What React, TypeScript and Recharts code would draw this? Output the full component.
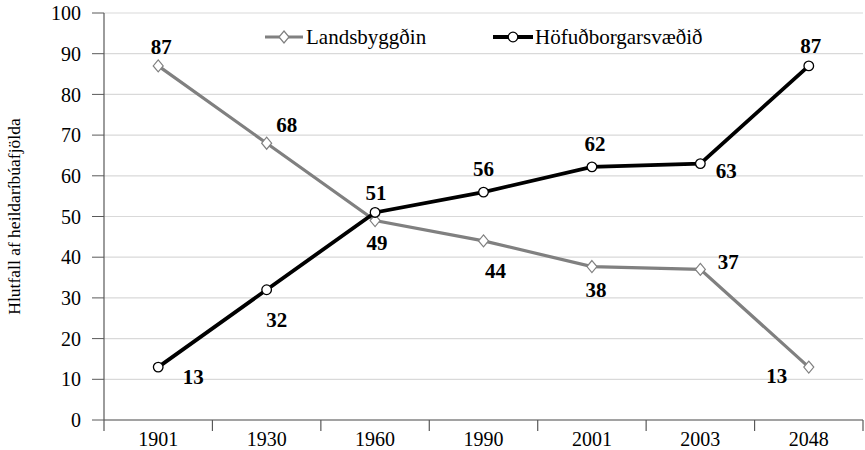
import React from "react";
import { LineChart, Line, XAxis, YAxis, CartesianGrid, LabelList } from "recharts";

const years = ["1901", "1930", "1960", "1990", "2001", "2003", "2048"];
const landsbyggdin = [87, 68, 49, 44, 37.7, 37.0, 13];
const hofudborg = [13, 32, 51, 56, 62.2, 63.0, 87];
const yTicks = [0, 10, 20, 30, 40, 50, 60, 70, 80, 90, 100];

const data = years.map((y, i) => ({ year: y, land: landsbyggdin[i], hofud: hofudborg[i] }));

// label offsets (styling): [dx, dy] relative to point
const landOffsets = [[3, -19], [20, -18], [2, 22], [12, 30], [4, 23], [28, -7], [-32, 9]];
const hofudOffsets = [[35, 10], [10, 30], [1, -19], [0, -23], [3, -23], [26, 7], [2, -20]];

const FONT = "Liberation Serif, Times New Roman, serif";
const GREY = "#808080";
const AXIS = "#595959";

const W = 865;
const H = 450;
const M = { top: 13, right: 2, left: 0, bottom: 0 };
const YW = 104;
const BAND = (W - M.left - M.right - YW) / years.length;

const Diamond = (props: any) => {
  const { cx, cy } = props;
  if (cx == null || cy == null) return null;
  return (
    <path
      d={`M${cx},${cy - 6} L${cx + 5},${cy} L${cx},${cy + 6} L${cx - 5},${cy} Z`}
      fill="#fff"
      stroke={GREY}
      strokeWidth={1.2}
    />
  );
};

const Circle = (props: any) => {
  const { cx, cy } = props;
  if (cx == null || cy == null) return null;
  return <circle cx={cx} cy={cy} r={4.8} fill="#fff" stroke="#000" strokeWidth={1.3} />;
};

const makeLabel = (offsets: number[][]) => (props: any) => {
  const { x, y, value, index } = props;
  const [dx, dy] = offsets[index] || [0, -15];
  return (
    <text
      x={x + dx}
      y={y + dy}
      textAnchor="middle"
      dominantBaseline="central"
      style={{ fontFamily: FONT, fontSize: 21, fontWeight: "bold" }}
      fill="#000"
    >
      {Math.round(value)}
    </text>
  );
};

const XTick = (props: any) => {
  const { x, y, payload, index } = props;
  const left = x - BAND / 2;
  return (
    <g>
      <line x1={left} y1={y - 11} x2={left} y2={y} stroke={AXIS} strokeWidth={1.2} />
      {index === years.length - 1 && (
        <line x1={x + BAND / 2} y1={y - 11} x2={x + BAND / 2} y2={y} stroke={AXIS} strokeWidth={1.2} />
      )}
      <text x={x} y={y + 8} textAnchor="middle" dominantBaseline="central" style={{ fontFamily: FONT, fontSize: 20 }} fill="#000">
        {payload.value}
      </text>
    </g>
  );
};

const LegendOverlay = () => (
  <svg width={W} height={50} style={{ position: "absolute", left: 0, top: 0, pointerEvents: "none" }}>
    <line x1={265} y1={37} x2={303} y2={37} stroke={GREY} strokeWidth={3.2} />
    <Diamond cx={284} cy={37} />
    <text x={306} y={37} dominantBaseline="central" style={{ fontFamily: FONT, fontSize: 21 }} fill="#000">
      Landsbyggðin
    </text>
    <line x1={493} y1={37} x2={533} y2={37} stroke="#000" strokeWidth={3.8} />
    <Circle cx={513} cy={37} />
    <text x={535} y={37} dominantBaseline="central" style={{ fontFamily: FONT, fontSize: 21 }} fill="#000">
      Höfuðborgarsvæðið
    </text>
  </svg>
);

export default function App() {
  return (
    <div style={{ position: "absolute", left: 0, top: 0, width: W, height: H, background: "#fff", fontFamily: FONT }}>
      <LineChart width={W} height={H} data={data} margin={M}>
        <CartesianGrid vertical={false} stroke="#d9d9d9" strokeWidth={1.2} />
        <XAxis
          dataKey="year"
          height={H - 420}
          padding={{ left: BAND / 2, right: BAND / 2 }}
          axisLine={{ stroke: AXIS, strokeWidth: 1.2 }}
          tickLine={false}
          tickSize={11}
          tickMargin={0}
          tick={<XTick />}
          interval={0}
        />
        <YAxis
          width={YW}
          domain={[0, 100]}
          ticks={yTicks}
          interval={0}
          axisLine={{ stroke: AXIS, strokeWidth: 1.2 }}
          tickLine={{ stroke: AXIS }}
          tickSize={12}
          tickMargin={11}
          tick={{ fontFamily: FONT, fontSize: 20, fill: "#000" }}
          label={{
            value: "Hlutfall af heildaríbúafjölda",
            angle: -90,
            position: "insideLeft",
            offset: 14,
            style: { textAnchor: "middle", fontFamily: FONT, fontSize: 17.5, fill: "#000" },
          }}
        />
        <Line
          dataKey="land"
          stroke={GREY}
          strokeWidth={3.2}
          dot={<Diamond />}
          activeDot={false}
          isAnimationActive={false}
        >
          <LabelList dataKey="land" content={makeLabel(landOffsets)} />
        </Line>
        <Line
          dataKey="hofud"
          stroke="#000"
          strokeWidth={3.8}
          dot={<Circle />}
          activeDot={false}
          isAnimationActive={false}
        >
          <LabelList dataKey="hofud" content={makeLabel(hofudOffsets)} />
        </Line>
      </LineChart>
      <LegendOverlay />
    </div>
  );
}
